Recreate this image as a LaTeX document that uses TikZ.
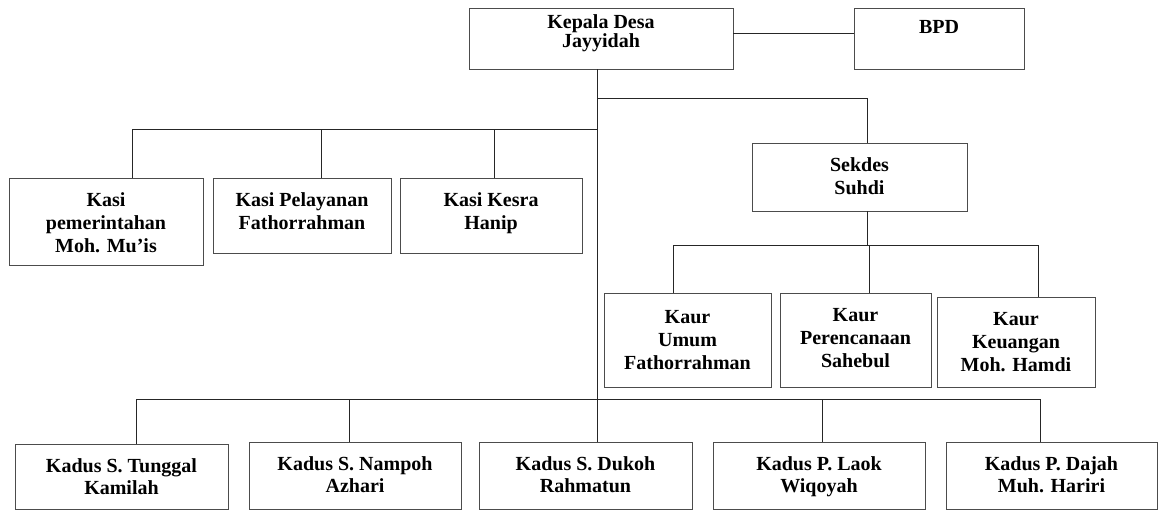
\documentclass[tikz,border=0pt]{standalone}
\usepackage{fontspec}
\setmainfont{Liberation Serif}

\begin{document}
\begin{tikzpicture}[x=0.5pt, y=-0.5pt, line width=0.5pt]

    \tikzset{
        kotak/.style={draw=black!70, inner sep=0pt, outer sep=0pt, anchor=north west,
                      font=\bfseries\fontsize{10pt}{11.5pt}\selectfont},
        garis/.style={draw=black!85}
    }

    % Perintah \kotak: [jarak atas]{nama}{x,y kiri atas}{lebar}{tinggi}{teks}
    \newcommand{\kotak}[6][15]{
        \node[kotak] (#2) at (#3)
            {\parbox[c][\dimexpr#5pt/2\relax][t]{\dimexpr#4pt/2\relax}{\centering\vspace*{\dimexpr#1pt/2\relax}#6}};
    }

    \useasboundingbox (0,0) rectangle (1158,510);

    % -- Baris atas: Kepala Desa dan BPD --
    \kotak[7]{kades}{469,8}{264}{61}{\setlength\baselineskip{9.5pt}Kepala Desa\\Jayyidah}
    \kotak[12]{bpd}{854,8}{170}{61}{BPD}

    % -- Kasi --
    \kotak{kasi1}{9,178}{194}{87}{Kasi\\pemerintahan\\Moh. Mu'is}
    \kotak{kasi2}{213,178}{178}{75}{Kasi Pelayanan\\Fathorrahman}
    \kotak{kasi3}{400,178}{182}{75}{Kasi Kesra\\Hanip}

    % -- Sekdes dan Kaur --
    \kotak{sekdes}{752,143}{215}{68}{Sekdes\\Suhdi}
    \kotak[17]{kaur1}{604,293}{167}{94}{Kaur\\Umum\\Fathorrahman}
    \kotak{kaur2}{780,293}{151}{94}{Kaur\\Perencanaan\\Sahebul}
    \kotak{kaur3}{937,297}{158}{90}{Kaur\\Keuangan\\Moh. Hamdi}

    % -- Kadus --
    \kotak{kadus1}{15,444}{213}{65}{\setlength\baselineskip{11pt}Kadus S. Tunggal\\Kamilah}
    \kotak{kadus2}{249,442}{212}{67}{\setlength\baselineskip{11pt}Kadus S. Nampoh\\Azhari}
    \kotak{kadus3}{479,442}{213}{67}{\setlength\baselineskip{11pt}Kadus S. Dukoh\\Rahmatun}
    \kotak{kadus4}{713,442}{212}{67}{\setlength\baselineskip{11pt}Kadus P. Laok\\Wiqoyah}
    \kotak{kadus5}{946,442}{211}{67}{\setlength\baselineskip{11pt}Kadus P. Dajah\\Muh. Hariri}

    % -- Garis penghubung --
    \draw[garis] ([yshift=2.5pt]kades.east) -- ([yshift=2.5pt]bpd.west);

    \coordinate (cabang) at (597,98);
    \coordinate (kasi) at (597,129);
    \coordinate (sek) at (867,98);
    \draw[garis] (cabang |- kades.south) -- (cabang |- kadus3.north); % garis tengah
    \draw[garis] (cabang) -- (sek) -- (sek |- sekdes.north);

    \coordinate (kasikiri) at (132,129);
    \draw[garis] (kasikiri) -- (kasi);
    \foreach \n/\xx in {kasi1/132, kasi2/321, kasi3/494} {
        \coordinate (t) at (\xx,129);
        \draw[garis] (t) -- (t |- \n.north);
    }

    \coordinate (kaur) at (867,245);
    \coordinate (kaurkiri) at (673,245);
    \coordinate (kaurkanan) at (1038,245);
    \draw[garis] (kaur |- sekdes.south) -- (kaur);
    \draw[garis] (kaurkiri) -- (kaurkanan);
    \foreach \n/\xx in {kaur1/673, kaur2/869, kaur3/1038} {
        \coordinate (t) at (\xx,245);
        \draw[garis] (t) -- (t |- \n.north);
    }

    \coordinate (kaduskiri) at (136,399);
    \coordinate (kaduskanan) at (1040,399);
    \draw[garis] (kaduskiri) -- (kaduskanan);
    \foreach \n/\xx in {kadus1/136, kadus2/349, kadus4/822, kadus5/1040} {
        \coordinate (t) at (\xx,399);
        \draw[garis] (t) -- (t |- \n.north);
    }
\end{tikzpicture}
\end{document}
